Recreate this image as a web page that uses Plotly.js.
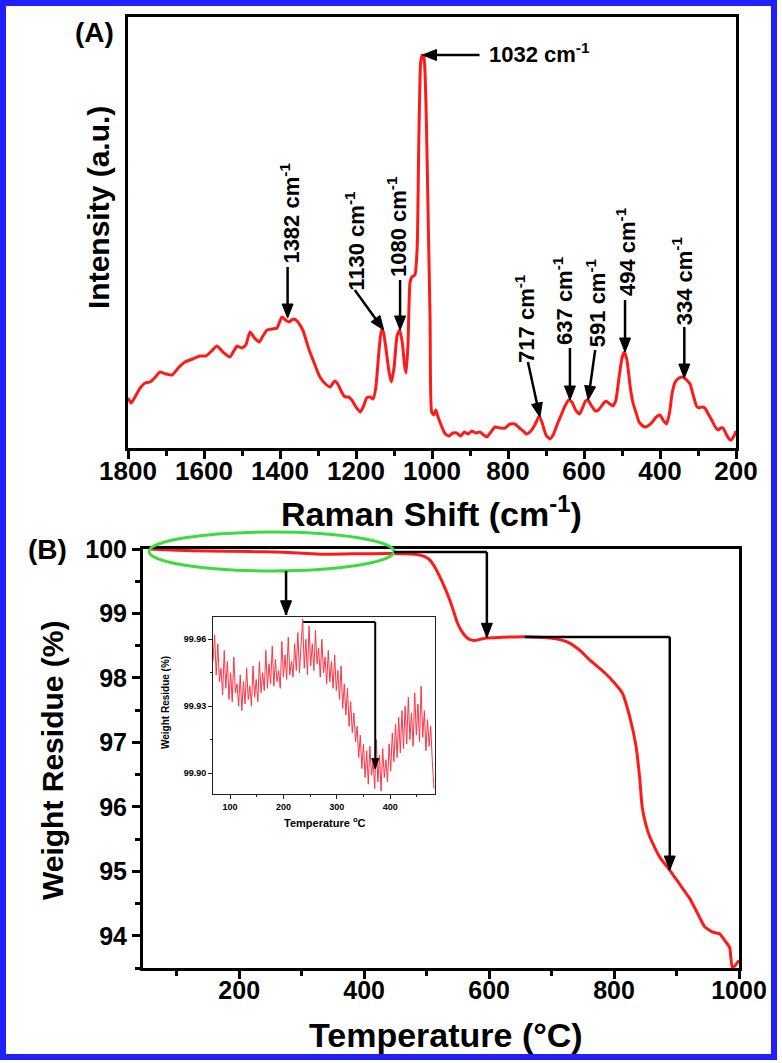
<!DOCTYPE html>
<html><head><meta charset="utf-8">
<script src="https://cdn.plot.ly/plotly-3.0.1.min.js"></script>
<style>
html,body{margin:0;padding:0;background:#fff;}
#wrap{position:relative;width:782px;height:1063px;}
#chart{width:782px;height:1063px;}
#frame{position:absolute;left:0;top:0;width:777px;height:1060px;border:6px solid #1f1fff;box-sizing:border-box;pointer-events:none;}
</style></head><body>
<div id="wrap"><div id="chart"></div><div id="frame"></div></div>
<script>
// ---------- (A) Raman spectrum ----------
var ramanShift = [1800,1792,1780,1768,1755,1742,1730,1716,1700,1684,1668,1650,1630,1611,1595,1580,1566,1550,1532,1520,1513,1500,1490,1479,1467,1455,1445,1434,1420,1408,1395,1385,1376,1365,1355,1340,1325,1310,1295,1280,1268,1256,1248,1238,1229,1220,1211,1200,1189,1180,1172,1163,1155,1148,1140,1133,1128,1120,1113,1107,1100,1092,1085,1078,1072,1068,1063,1058,1053,1045,1039,1035,1030,1026,1021,1015,1010,1005,1001,995,990,985,975,965,955,945,935,925,915,905,895,885,874,864,856,845,834,820,808,795,782,770,760,751,740,728,718,710,700,690,680,670,660,650,640,632,622,612,604,596,590,580,570,562,552,542,532,524,516,508,500,494,487,478,471,462,455,448,440,432,420,410,400,392,383,375,368,360,350,339,330,321,312,304,297,290,282,273,264,256,247,240,234,226,218,212,207,203,200];
var ramanIntensity = [50,45,52,60,65,66,70,76,74,73,80,86,89,92,92,97,102,96,91,98,102,100,103,116,110,106,112,118,119,120,131,128,126,129,127,118,100,85,71,64,61,67,64,56,51,51,48,41,36,42,50,51,49,60,95,118,116,96,76,66,80,112,118,105,82,75,105,165,171,173,200,300,385,393,390,330,228,128,36,33,38,32,22,14,12,15,15,12,16,14,17,15,16,13,11,16,21,20,20,24,24,20,17,14,17,24,32,25,13,9,14,24,33,42,48,46,38,34,40,47,48,42,37,38,43,47,44,42,48,70,90,96,88,60,45,34,26,23,21,22,26,31,33,28,24,35,55,66,70,71,68,64,52,42,40,41,40,34,28,22,18,20,20,14,9,8,11,14,17];
var peakLabel  = ['1382','1130','1080','1032','717','637','591','494','334'];
var peakShift  = [1380,1127,1084,1025,716,637,589,492,336];
var peakHeight = [130,118,118,393,31,48,48,96,70];

// ---------- (B) TGA ----------
var tgaTemp   = [55,100,150,217,270,329,380,441,481,495,505,513,521,529,537,543,549,557,565,571,577,586,596,620,657,697,715,729,745,761,773,785,800,813,825,835,841,845,851,857,873,889,905,921,933,945,957,965,969,977,985,989,993,997,1000];
var tgaWeight = [100.00,99.98,99.97,99.96,99.95,99.92,99.925,99.93,99.92,99.89,99.83,99.72,99.57,99.40,99.21,99.04,98.86,98.71,98.62,98.59,98.58,98.60,98.62,98.63,98.64,98.62,98.59,98.54,98.43,98.28,98.18,98.08,97.93,97.77,97.40,96.95,96.45,96.00,95.72,95.54,95.22,95.02,94.80,94.58,94.36,94.14,94.06,94.04,94.03,93.93,93.82,93.52,93.53,93.58,93.62];

// ---------- inset (zoom of the first plateau) ----------
var insetStartT = 68, insetStepT = 3;
var insetWeight = [99.950,99.962,99.944,99.958,99.941,99.947,99.935,99.955,99.938,99.950,99.933,99.945,99.932,99.952,99.936,99.940,99.930,99.944,99.928,99.941,99.931,99.947,99.933,99.939,99.930,99.948,99.934,99.942,99.932,99.950,99.936,99.945,99.937,99.955,99.938,99.949,99.940,99.957,99.939,99.951,99.941,99.946,99.938,99.959,99.943,99.953,99.942,99.961,99.944,99.950,99.943,99.958,99.946,99.963,99.945,99.955,99.969,99.947,99.960,99.944,99.966,99.948,99.958,99.946,99.964,99.949,99.956,99.943,99.960,99.945,99.952,99.940,99.955,99.941,99.950,99.938,99.953,99.937,99.946,99.933,99.948,99.929,99.940,99.926,99.938,99.921,99.932,99.918,99.927,99.914,99.921,99.907,99.917,99.902,99.913,99.898,99.910,99.895,99.912,99.899,99.905,99.893,99.915,99.896,99.908,99.892,99.911,99.898,99.906,99.896,99.913,99.901,99.918,99.905,99.922,99.907,99.925,99.909,99.928,99.911,99.930,99.913,99.934,99.915,99.927,99.912,99.936,99.917,99.931,99.914,99.939,99.916,99.928,99.910,99.924,99.912,99.921,99.905,99.893];

// ---------- layout helpers (pixel -> paper) ----------
var FW = 782, FH = 1063;
function PX(p){ return p / FW; }
function PY(p){ return 1 - p / FH; }
var F = 'Liberation Sans, Arial, sans-serif';
var RED = '#ff1a1a';

var arrowOff = [[0,-51],[-29,-40],[0,-50],[57,0],[-12,-55],[0,-52],[7,-50],[0,-52],[0,-51]];
var textOff  = [[2,105],[-29,89],[-3,103],[64,2],[-15,99],[-7,100],[8,97],[1,100],[-2,97]];

var annotations = [];
var shapes = [];

// arrow drawn as shapes: shaft + filled triangular head, offsets in screen pixels
function arrowShapes(xr, yr, x, y, dx, dy, L, Wd, lw){
  var len = Math.sqrt(dx*dx + dy*dy);
  var ux = -dx/len, uy = -dy/len;           // direction tail -> head (screen)
  var bx = -ux*L, by = -uy*L;               // base centre of head
  var px = -uy*Wd/2, py = ux*Wd/2;          // perpendicular
  shapes.push({type:'line', xref:xr, yref:yr, xsizemode:'pixel', ysizemode:'pixel', xanchor:x, yanchor:y,
    x0:dx, y0:-dy, x1:bx*0.6, y1:-by*0.6, line:{color:'black', width:lw}});
  var p = 'M0,0 L' + (bx+px).toFixed(2) + ',' + (-(by+py)).toFixed(2) + ' L' + (bx-px).toFixed(2) + ',' + (-(by-py)).toFixed(2) + ' Z';
  shapes.push({type:'path', xref:xr, yref:yr, xsizemode:'pixel', ysizemode:'pixel', xanchor:x, yanchor:y,
    path:p, fillcolor:'black', line:{color:'black', width:1}});
}
function headShape(xr, yr, x, y, L, Wd){
  shapes.push({type:'path', xref:xr, yref:yr, xsizemode:'pixel', ysizemode:'pixel', xanchor:x, yanchor:y,
    path:'M0,0 L' + (-Wd/2) + ',' + L + ' L' + (Wd/2) + ',' + L + ' Z', fillcolor:'black', line:{color:'black', width:1}});
}

for (var i = 0; i < peakLabel.length; i++) {
  arrowShapes('x', 'y', peakShift[i], peakHeight[i], arrowOff[i][0], arrowOff[i][1], 14, 11, 2.5);
  var horiz = (peakLabel[i] === '1032');
  annotations.push({xref:'x', yref:'y', x:peakShift[i], y:peakHeight[i], showarrow:false,
    text:peakLabel[i] + ' cm<sup>-1</sup>', textangle: horiz ? 0 : -90,
    xanchor: horiz ? 'left' : 'center', yanchor:'middle',
    xshift:textOff[i][0], yshift:textOff[i][1],
    font:{family:F, size:22, weight:'bold', color:'black'}});
}
function title(txt, x, y, size, ang){
  annotations.push({xref:'paper', yref:'paper', x:PX(x), y:PY(y), text:txt, showarrow:false,
    textangle:ang||0, xanchor:'center', yanchor:'middle', font:{family:F, size:size, weight:'bold', color:'black'}});
}
title('(A)', 94, 32, 28);
title('Intensity (a.u.)', 98, 208, 30, -90);
title('Raman Shift (cm<sup>-1</sup>)', 432, 511, 34);
title('(B)', 47, 549, 28);
title('Weight Residue (%)', 52, 761, 30, -90);
title('Temperature (°C)', 446, 1035, 34);
title('Weight Residue (%)', 165, 703, 10, -90);
title('Temperature <sup>o</sup>C', 325, 822, 11);

// green ellipse and bracket arrows on the TGA panel
shapes.push({type:'circle', xref:'paper', yref:'paper', x0:PX(149), x1:PX(394), y0:PY(571), y1:PY(532), line:{color:'#3ddc3d', width:3}});
function bracket(xr, yr, xs, ys, xh, yh, lw, L, Wd){
  if (xs !== null) shapes.push({type:'line', xref:xr, yref:yr, x0:xs, x1:xh, y0:ys, y1:ys, line:{color:'black', width:lw}});
  shapes.push({type:'line', xref:xr, yref:yr, x0:xh, x1:xh, y0:ys, y1:yh, line:{color:'black', width:lw}});
  headShape(xr, yr, xh, yh, L, Wd);
}
bracket('x2','y2', null, 99.66, 275, 98.98, 2.5, 14, 11);
bracket('x2','y2', 447.6, 99.953, 596.4, 98.63, 2.5, 14, 11);
bracket('x2','y2', 657.2, 98.636, 889.2, 95.02, 2.5, 14, 11);
bracket('x3','y3', 237, 99.9678, 372, 99.902, 2, 10, 7);

var tickFont = {family:F, size:25, weight:'bold', color:'black'};
function axBase(extra){
  var a = {showline:true, linewidth:3, linecolor:'black', mirror:true, showgrid:false, zeroline:false,
    ticks:'outside', ticklen:8, tickwidth:3, tickcolor:'black', tickfont:tickFont};
  for (var k in extra) a[k] = extra[k];
  return a;
}

var data = [
  {x:ramanShift, y:ramanIntensity, xaxis:'x', yaxis:'y', mode:'lines', line:{color:RED, width:3, shape:'spline', smoothing:0.5}},
  {x:tgaTemp, y:tgaWeight, xaxis:'x2', yaxis:'y2', mode:'lines', line:{color:RED, width:3, shape:'spline', smoothing:0.5}},
  {x0:insetStartT, dx:insetStepT, y:insetWeight, xaxis:'x3', yaxis:'y3', mode:'lines', line:{color:'#ff3346', width:1}}
];

var layout = {
  width:FW, height:FH, margin:{l:0, r:0, t:0, b:0}, showlegend:false,
  paper_bgcolor:'white', plot_bgcolor:'white',
  xaxis: axBase({domain:[PX(128), PX(736)], range:[1800,200], anchor:'y', tick0:0, dtick:200, ticklabelstandoff:-10,
    tickfont:{family:F, size:26, weight:'bold', color:'black'},
    minor:{ticks:'outside', ticklen:5, tickwidth:3, tickcolor:'black', tick0:0, dtick:100}}),
  yaxis: axBase({domain:[PY(448), PY(17)], range:[0,431], anchor:'x', ticks:'', showticklabels:false}),
  xaxis2: axBase({domain:[PX(143), PX(739)], range:[46,1000], anchor:'y2', tick0:0, dtick:200, ticklabelstandoff:-10,
    minor:{ticks:'outside', ticklen:5, tickwidth:3, tickcolor:'black', tick0:0, dtick:100}}),
  yaxis2: axBase({domain:[PY(968), PY(549)], range:[93.5,100], anchor:'x2', tick0:0, dtick:1,
    minor:{ticks:'outside', ticklen:5, tickwidth:3, tickcolor:'black', tick0:0, dtick:0.5}}),
  xaxis3: {domain:[PX(213), PX(435)], range:[68,484], anchor:'y3', showline:true, linewidth:1, linecolor:'#222', mirror:true,
    showgrid:false, zeroline:false, ticks:'outside', ticklen:4, tickwidth:1, tickcolor:'#222', tick0:0, dtick:100,
    minor:{ticks:'outside', ticklen:2, tickwidth:1, tickcolor:'#222', tick0:0, dtick:50},
    tickfont:{family:F, size:9, weight:'bold', color:'black'}},
  yaxis3: {domain:[PY(794), PY(617)], range:[99.8906,99.970], anchor:'x3', showline:true, linewidth:1, linecolor:'#222', mirror:true,
    showgrid:false, zeroline:false, ticks:'outside', ticklen:4, tickwidth:1, tickcolor:'#222', tick0:99.90, dtick:0.03, tickformat:'.2f',
    minor:{ticks:'outside', ticklen:2, tickwidth:1, tickcolor:'#222', tick0:99.90, dtick:0.015},
    tickfont:{family:F, size:9, weight:'bold', color:'black'}},
  annotations:annotations, shapes:shapes
};
Plotly.newPlot('chart', data, layout, {staticPlot:true, displayModeBar:false});
</script>
</body></html>
